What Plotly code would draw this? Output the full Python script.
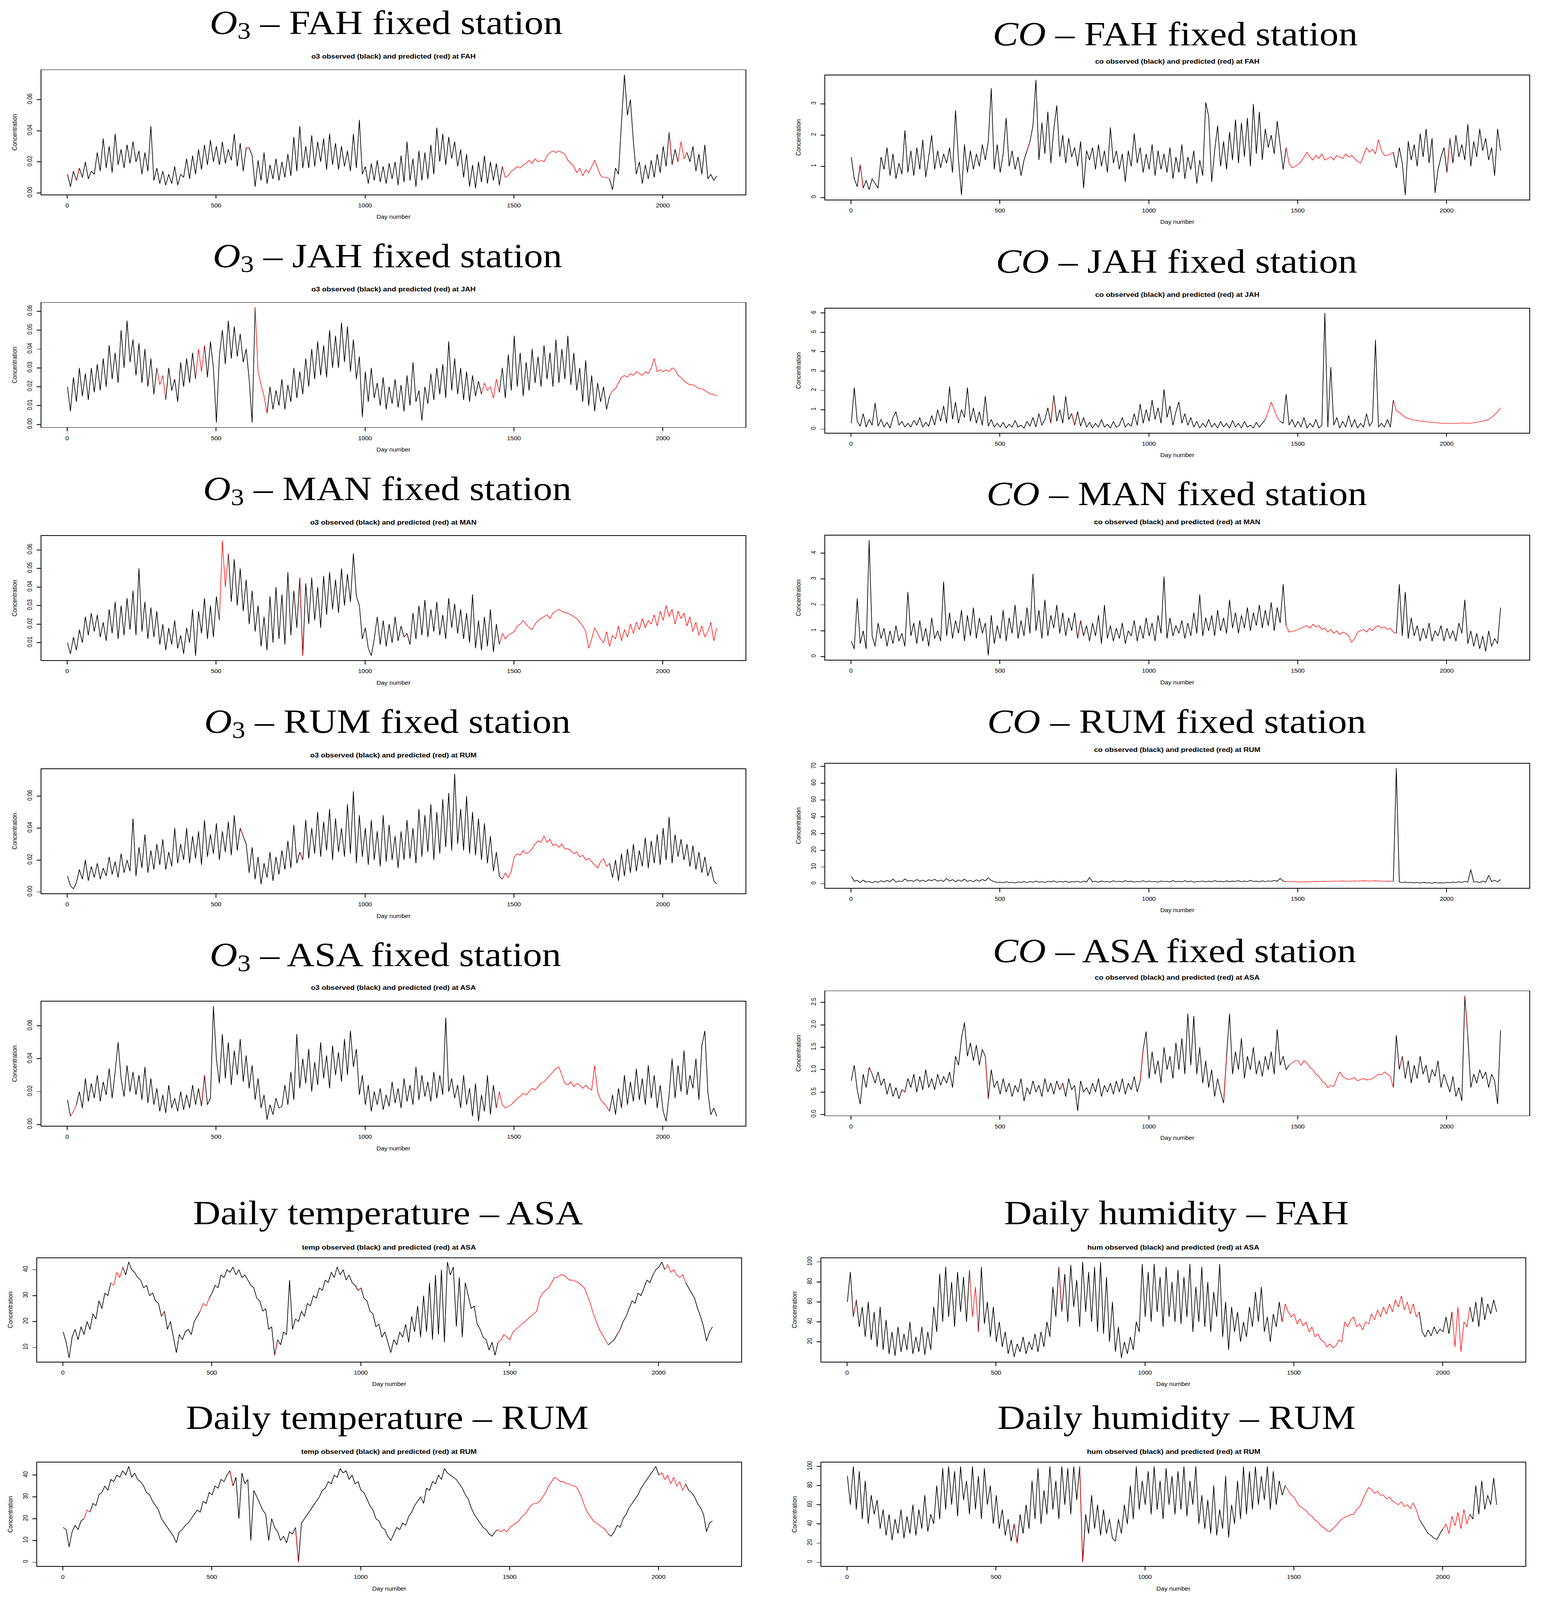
import plotly.graph_objects as go

W, H = 3951, 4619  # reference page size; positions below are in its pixels
n_days = 2190
days = list(range(1, n_days, 10))  # one reading every 10 days

# ---- O3 (ppm) ----
o3_fah = [
    0.012, 0.004, 0.014, 0.008, 0.016, 0.010, 0.020, 0.009, 0.014, 0.012,
    0.026, 0.014, 0.035, 0.016, 0.030, 0.013, 0.038, 0.018, 0.028, 0.016,
    0.031, 0.019, 0.033, 0.020, 0.027, 0.012, 0.026, 0.014, 0.043, 0.008,
    0.016, 0.006, 0.014, 0.005, 0.012, 0.006, 0.017, 0.005, 0.012, 0.010,
    0.022, 0.009, 0.024, 0.012, 0.028, 0.015, 0.031, 0.018, 0.034, 0.020,
    0.030, 0.018, 0.033, 0.019, 0.028, 0.021, 0.038, 0.017, 0.032, 0.014,
    0.029, 0.029, 0.024, 0.004, 0.021, 0.008, 0.026, 0.006, 0.018, 0.009,
    0.022, 0.008, 0.020, 0.010, 0.025, 0.011, 0.036, 0.014, 0.043, 0.016,
    0.030, 0.016, 0.037, 0.017, 0.033, 0.020, 0.035, 0.015, 0.038, 0.018,
    0.032, 0.015, 0.030, 0.017, 0.027, 0.014, 0.038, 0.016, 0.047, 0.012,
    0.017, 0.006, 0.019, 0.008, 0.021, 0.007, 0.017, 0.006, 0.019, 0.009,
    0.020, 0.005, 0.024, 0.007, 0.033, 0.008, 0.022, 0.004, 0.027, 0.008,
    0.026, 0.009, 0.031, 0.012, 0.042, 0.020, 0.038, 0.018, 0.036, 0.022,
    0.033, 0.017, 0.028, 0.010, 0.025, 0.004, 0.018, 0.003, 0.020, 0.007,
    0.024, 0.006, 0.020, 0.008, 0.019, 0.005, 0.017, 0.010, 0.011, 0.014,
    0.015, 0.017, 0.016, 0.018, 0.019, 0.021, 0.019, 0.022, 0.020, 0.021,
    0.020, 0.024, 0.026, 0.027, 0.026, 0.027, 0.026, 0.025, 0.021, 0.019,
    0.017, 0.013, 0.016, 0.011, 0.015, 0.013, 0.017, 0.021, 0.016, 0.011,
    0.010, 0.010, 0.009, 0.002, 0.016, 0.012, 0.045, 0.076, 0.050, 0.060,
    0.033, 0.012, 0.020, 0.006, 0.018, 0.009, 0.021, 0.010, 0.025, 0.013,
    0.030, 0.017, 0.039, 0.018, 0.028, 0.020, 0.033, 0.022, 0.026, 0.020,
    0.030, 0.014, 0.025, 0.012, 0.031, 0.009, 0.012, 0.008, 0.011,
]
o3_jah = [
    0.020, 0.007, 0.025, 0.012, 0.030, 0.015, 0.027, 0.013, 0.030, 0.017,
    0.032, 0.018, 0.035, 0.020, 0.042, 0.024, 0.038, 0.022, 0.050, 0.030,
    0.055, 0.033, 0.045, 0.026, 0.043, 0.022, 0.040, 0.020, 0.035, 0.016,
    0.030, 0.021, 0.026, 0.013, 0.030, 0.018, 0.024, 0.012, 0.033, 0.020,
    0.035, 0.022, 0.038, 0.024, 0.040, 0.028, 0.042, 0.025, 0.044, 0.030,
    0.001, 0.036, 0.050, 0.032, 0.055, 0.035, 0.052, 0.036, 0.048, 0.033,
    0.040, 0.024, 0.001, 0.062, 0.028, 0.021, 0.015, 0.006, 0.020, 0.008,
    0.018, 0.010, 0.024, 0.008, 0.021, 0.012, 0.030, 0.014, 0.028, 0.016,
    0.035, 0.020, 0.040, 0.024, 0.044, 0.026, 0.042, 0.025, 0.050, 0.030,
    0.047, 0.030, 0.054, 0.033, 0.052, 0.028, 0.045, 0.024, 0.036, 0.004,
    0.028, 0.012, 0.030, 0.014, 0.022, 0.010, 0.025, 0.008, 0.020, 0.011,
    0.024, 0.009, 0.021, 0.007, 0.026, 0.010, 0.033, 0.012, 0.018, 0.002,
    0.020, 0.011, 0.027, 0.013, 0.030, 0.016, 0.032, 0.014, 0.044, 0.018,
    0.035, 0.016, 0.030, 0.013, 0.028, 0.012, 0.026, 0.015, 0.023, 0.016,
    0.022, 0.018, 0.020, 0.014, 0.024, 0.017, 0.030, 0.014, 0.037, 0.018,
    0.047, 0.020, 0.038, 0.015, 0.033, 0.018, 0.040, 0.022, 0.036, 0.020,
    0.042, 0.024, 0.038, 0.020, 0.045, 0.022, 0.040, 0.024, 0.047, 0.021,
    0.038, 0.018, 0.030, 0.012, 0.034, 0.010, 0.026, 0.007, 0.022, 0.012,
    0.020, 0.008, 0.015, 0.018, 0.019, 0.022, 0.025, 0.026, 0.025, 0.027,
    0.026, 0.028, 0.027, 0.026, 0.028, 0.027, 0.030, 0.035, 0.028, 0.029,
    0.028, 0.029, 0.028, 0.030, 0.029, 0.026, 0.025, 0.023, 0.022, 0.021,
    0.021, 0.020, 0.019, 0.019, 0.018, 0.017, 0.016, 0.016, 0.015,
]
o3_man = [
    0.010, 0.004, 0.013, 0.006, 0.017, 0.010, 0.024, 0.014, 0.026, 0.016,
    0.025, 0.013, 0.021, 0.011, 0.028, 0.015, 0.032, 0.012, 0.030, 0.014,
    0.034, 0.017, 0.038, 0.014, 0.050, 0.016, 0.032, 0.012, 0.029, 0.013,
    0.027, 0.009, 0.020, 0.006, 0.018, 0.009, 0.022, 0.007, 0.014, 0.004,
    0.018, 0.010, 0.028, 0.003, 0.027, 0.015, 0.034, 0.012, 0.030, 0.013,
    0.035, 0.022, 0.065, 0.040, 0.058, 0.032, 0.055, 0.030, 0.050, 0.027,
    0.044, 0.020, 0.038, 0.016, 0.030, 0.008, 0.024, 0.006, 0.035, 0.010,
    0.040, 0.012, 0.036, 0.009, 0.048, 0.014, 0.038, 0.018, 0.045, 0.003,
    0.042, 0.020, 0.045, 0.022, 0.040, 0.018, 0.046, 0.025, 0.048, 0.028,
    0.044, 0.026, 0.050, 0.030, 0.047, 0.032, 0.058, 0.035, 0.030, 0.012,
    0.018, 0.007, 0.003, 0.012, 0.024, 0.009, 0.022, 0.008, 0.020, 0.010,
    0.024, 0.011, 0.019, 0.013, 0.015, 0.009, 0.026, 0.012, 0.030, 0.014,
    0.033, 0.013, 0.028, 0.016, 0.032, 0.014, 0.025, 0.012, 0.034, 0.018,
    0.031, 0.015, 0.028, 0.012, 0.026, 0.010, 0.036, 0.007, 0.022, 0.006,
    0.024, 0.008, 0.028, 0.005, 0.020, 0.009, 0.015, 0.012, 0.014, 0.015,
    0.016, 0.019, 0.020, 0.022, 0.020, 0.018, 0.017, 0.020, 0.022, 0.023,
    0.024, 0.025, 0.023, 0.026, 0.027, 0.028, 0.027, 0.026, 0.026, 0.025,
    0.024, 0.023, 0.021, 0.019, 0.016, 0.007, 0.012, 0.018, 0.015, 0.012,
    0.010, 0.016, 0.008, 0.014, 0.012, 0.019, 0.011, 0.017, 0.013, 0.020,
    0.015, 0.021, 0.017, 0.023, 0.018, 0.022, 0.020, 0.025, 0.019, 0.027,
    0.022, 0.030, 0.024, 0.028, 0.020, 0.027, 0.023, 0.026, 0.019, 0.024,
    0.016, 0.021, 0.014, 0.019, 0.013, 0.016, 0.021, 0.011, 0.018,
]
o3_rum = [
    0.010, 0.004, 0.002, 0.006, 0.014, 0.008, 0.020, 0.007, 0.016, 0.009,
    0.018, 0.008, 0.015, 0.010, 0.022, 0.011, 0.019, 0.009, 0.024, 0.012,
    0.020, 0.013, 0.046, 0.010, 0.028, 0.015, 0.036, 0.012, 0.026, 0.014,
    0.030, 0.017, 0.033, 0.014, 0.025, 0.016, 0.040, 0.018, 0.030, 0.020,
    0.040, 0.018, 0.035, 0.021, 0.038, 0.017, 0.045, 0.022, 0.036, 0.024,
    0.043, 0.020, 0.038, 0.025, 0.044, 0.023, 0.048, 0.026, 0.040, 0.035,
    0.030, 0.012, 0.028, 0.008, 0.022, 0.005, 0.018, 0.009, 0.025, 0.007,
    0.022, 0.011, 0.026, 0.014, 0.032, 0.015, 0.042, 0.018, 0.025, 0.020,
    0.045, 0.021, 0.040, 0.024, 0.050, 0.022, 0.044, 0.026, 0.052, 0.020,
    0.046, 0.025, 0.040, 0.022, 0.055, 0.024, 0.063, 0.018, 0.048, 0.022,
    0.040, 0.017, 0.045, 0.020, 0.038, 0.016, 0.048, 0.019, 0.042, 0.020,
    0.035, 0.015, 0.038, 0.020, 0.045, 0.021, 0.040, 0.018, 0.052, 0.022,
    0.048, 0.025, 0.055, 0.020, 0.050, 0.024, 0.058, 0.028, 0.062, 0.026,
    0.074, 0.030, 0.052, 0.026, 0.060, 0.024, 0.050, 0.023, 0.046, 0.020,
    0.043, 0.018, 0.035, 0.013, 0.025, 0.010, 0.008, 0.012, 0.009, 0.013,
    0.022, 0.024, 0.023, 0.026, 0.024, 0.025, 0.027, 0.030, 0.032, 0.031,
    0.035, 0.031, 0.033, 0.029, 0.030, 0.028, 0.030, 0.027, 0.027, 0.026,
    0.024, 0.025, 0.022, 0.023, 0.020, 0.021, 0.019, 0.017, 0.015, 0.019,
    0.021, 0.016, 0.018, 0.009, 0.020, 0.007, 0.024, 0.010, 0.027, 0.012,
    0.030, 0.013, 0.026, 0.016, 0.034, 0.015, 0.032, 0.018, 0.036, 0.017,
    0.040, 0.020, 0.047, 0.018, 0.036, 0.022, 0.033, 0.020, 0.030, 0.016,
    0.029, 0.014, 0.025, 0.012, 0.022, 0.010, 0.016, 0.007, 0.005,
]
o3_asa = [
    0.015, 0.005, 0.008, 0.012, 0.020, 0.010, 0.028, 0.014, 0.025, 0.016,
    0.030, 0.014, 0.026, 0.018, 0.034, 0.016, 0.032, 0.050, 0.028, 0.017,
    0.036, 0.020, 0.032, 0.018, 0.030, 0.015, 0.035, 0.013, 0.028, 0.012,
    0.022, 0.008, 0.018, 0.007, 0.024, 0.010, 0.016, 0.008, 0.020, 0.009,
    0.018, 0.010, 0.024, 0.012, 0.022, 0.011, 0.030, 0.012, 0.016, 0.072,
    0.040, 0.025, 0.055, 0.028, 0.050, 0.024, 0.045, 0.030, 0.052, 0.026,
    0.042, 0.022, 0.036, 0.015, 0.028, 0.010, 0.018, 0.003, 0.012, 0.006,
    0.016, 0.010, 0.011, 0.024, 0.012, 0.032, 0.015, 0.055, 0.022, 0.040,
    0.025, 0.046, 0.020, 0.038, 0.024, 0.050, 0.028, 0.042, 0.022, 0.048,
    0.030, 0.044, 0.026, 0.052, 0.030, 0.057, 0.035, 0.046, 0.018, 0.030,
    0.012, 0.024, 0.008, 0.020, 0.012, 0.022, 0.009, 0.018, 0.011, 0.026,
    0.013, 0.022, 0.010, 0.028, 0.014, 0.024, 0.012, 0.035, 0.015, 0.030,
    0.017, 0.026, 0.014, 0.032, 0.016, 0.030, 0.018, 0.065, 0.020, 0.028,
    0.016, 0.024, 0.010, 0.030, 0.012, 0.022, 0.005, 0.025, 0.002, 0.018,
    0.008, 0.030, 0.006, 0.024, 0.010, 0.020, 0.012, 0.010, 0.011, 0.012,
    0.014, 0.016, 0.017, 0.019, 0.018, 0.020, 0.022, 0.021, 0.023, 0.025,
    0.026, 0.028, 0.030, 0.032, 0.034, 0.035, 0.030, 0.025, 0.024, 0.026,
    0.023, 0.025, 0.024, 0.022, 0.024, 0.022, 0.021, 0.036, 0.020, 0.015,
    0.013, 0.011, 0.008, 0.018, 0.006, 0.022, 0.010, 0.030, 0.012, 0.026,
    0.014, 0.034, 0.015, 0.028, 0.012, 0.036, 0.016, 0.030, 0.010, 0.024,
    0.008, 0.002, 0.018, 0.040, 0.016, 0.036, 0.020, 0.045, 0.018, 0.030,
    0.022, 0.040, 0.015, 0.048, 0.057, 0.020, 0.006, 0.010, 0.005,
]

# ---- CO (ppm) ----
co_fah = [
    1.3, 0.6, 0.35, 1.05, 0.3, 0.55, 0.25, 0.6, 0.45, 0.3,
    1.3, 0.9, 1.6, 0.7, 1.4, 0.6, 1.1, 0.75, 2.15, 0.8,
    1.5, 0.7, 1.6, 0.9, 1.85, 0.65, 1.3, 2.0, 0.9, 1.5,
    0.95, 1.4, 1.1, 1.6, 0.8, 2.8, 1.2, 0.08, 1.7, 0.8,
    1.5, 0.9, 1.4, 1.0, 1.7, 1.2, 1.8, 3.5, 0.9, 1.7,
    0.8, 1.4, 2.55, 1.0, 1.5, 0.9, 1.3, 0.7, 1.2, 1.5,
    1.8, 2.3, 3.77, 1.2, 2.4, 1.4, 2.75, 1.1, 2.2, 2.95,
    1.3, 2.0, 1.1, 1.9, 1.3, 1.6, 1.0, 1.8, 0.3, 1.5,
    1.2, 1.6, 0.9, 1.7, 1.0, 1.5, 0.8, 2.25, 1.1, 1.5,
    0.9, 1.4, 0.5, 1.5, 1.0, 2.05, 1.1, 1.6, 0.8, 1.4,
    0.9, 1.7, 0.7, 1.5, 0.9, 1.4, 0.8, 1.6, 0.6, 1.3,
    0.8, 1.7, 0.6, 1.3, 0.9, 1.5, 0.45, 1.2, 0.7, 3.05,
    2.6, 0.5, 1.5, 2.3, 1.0, 1.8, 0.9, 2.1, 1.2, 2.5,
    1.1, 2.4, 1.3, 2.55, 1.0, 3.0, 1.4, 2.75, 1.2, 2.2,
    1.6, 2.0, 1.4, 2.45, 1.7, 0.9, 1.6, 1.1, 0.95, 1.0,
    1.05, 1.15, 1.3, 1.45, 1.3, 1.2, 1.35, 1.25, 1.4, 1.2,
    1.25, 1.3, 1.2, 1.35, 1.3, 1.25, 1.4, 1.3, 1.35, 1.25,
    1.15, 1.1, 1.35, 1.6, 1.45, 1.55, 1.4, 1.85, 1.5, 1.35,
    1.35, 1.4, 1.45, 0.95, 1.6, 1.1, 0.08, 1.8, 1.2, 1.7,
    1.0, 2.05, 1.3, 2.2, 1.1, 1.9, 0.15, 0.9, 1.3, 1.6,
    0.8, 1.9, 1.1, 2.0, 1.3, 1.7, 1.2, 2.35, 1.0, 1.8,
    1.3, 2.2, 1.5, 1.9, 1.2, 1.6, 0.7, 2.2, 1.5,
]
co_jah = [
    0.3, 2.15, 0.4, 0.15, 0.8, 0.1, 0.5, 0.2, 1.35, 0.15,
    0.5, 0.1, 0.35, 0.05, 0.6, 0.9, 0.2, 0.4, 0.1, 0.3,
    0.1, 0.45, 0.2, 0.6, 0.1, 0.35, 0.15, 0.7, 0.2, 1.0,
    0.4, 1.2, 0.3, 2.2, 0.5, 1.4, 0.3, 1.0, 0.6, 2.15,
    0.4, 1.1, 0.3, 0.9, 0.2, 1.7, 0.15, 0.5, 0.1, 0.3,
    0.1, 0.35, 0.05, 0.25, 0.1, 0.45, 0.1, 0.2, 0.05, 0.4,
    0.15, 0.6, 0.1, 0.8, 0.2, 0.5, 1.1, 0.3, 1.75, 0.4,
    1.0, 0.3, 1.7, 0.5, 0.8, 0.2, 0.9, 0.15, 0.6, 0.1,
    0.35, 0.05, 0.3, 0.1, 0.5, 0.1, 0.25, 0.05, 0.4, 0.1,
    0.2, 0.6, 0.1, 0.3, 0.15, 0.8, 0.2, 1.3, 0.3, 1.0,
    0.4, 1.5, 0.5, 1.1, 0.3, 2.05, 0.6, 1.2, 0.2, 0.9,
    1.4, 0.3, 0.8, 0.2, 0.6, 0.1, 0.4, 0.05, 0.3, 0.1,
    0.5, 0.1, 0.3, 0.05, 0.4, 0.1, 0.3, 0.05, 0.45, 0.1,
    0.3, 0.05, 0.4, 0.1, 0.2, 0.05, 0.35, 0.1, 0.3, 0.5,
    0.9, 1.4, 1.0, 0.6, 0.4, 0.3, 1.8, 0.2, 0.5, 0.1,
    0.4, 0.1, 0.6, 0.05, 0.3, 0.1, 0.5, 0.05, 0.2, 6.0,
    0.1, 3.2, 0.2, 0.6, 0.05, 0.4, 0.1, 0.7, 0.1, 0.5,
    0.05, 0.3, 0.1, 0.8, 0.15, 0.4, 4.6, 0.1, 0.3, 0.1,
    0.5, 0.1, 1.5, 0.95, 0.85, 0.75, 0.6, 0.55, 0.5, 0.45,
    0.45, 0.4, 0.42, 0.38, 0.35, 0.36, 0.33, 0.32, 0.3, 0.3,
    0.3, 0.28, 0.3, 0.29, 0.3, 0.32, 0.3, 0.31, 0.3, 0.33,
    0.35, 0.38, 0.4, 0.45, 0.5, 0.6, 0.75, 0.9, 1.1,
]
co_man = [
    0.6, 0.3, 2.25, 0.5, 1.0, 0.3, 4.5, 0.8, 0.4, 1.3,
    0.7, 1.1, 0.4, 1.0, 0.5, 1.2, 0.6, 0.9, 0.4, 2.5,
    0.8, 1.3, 0.5, 1.4, 0.6, 1.1, 0.4, 1.5, 0.7, 1.0,
    0.6, 2.9, 0.8, 1.7, 0.7, 1.4, 0.9, 1.8, 0.6, 1.6,
    0.8, 1.9, 0.7, 1.5, 0.9, 1.3, 0.05, 1.6, 0.5, 1.2,
    0.7, 1.8, 0.6, 1.5, 0.9, 2.0, 0.7, 1.4, 0.8, 1.9,
    0.9, 3.2, 1.0, 1.8, 0.7, 2.2, 0.8, 1.6, 1.1, 2.0,
    0.9, 1.7, 0.8, 1.5, 1.0, 1.7, 0.7, 1.4, 0.8, 1.2,
    0.6, 1.3, 0.8, 1.6, 0.5, 2.0, 0.7, 1.2, 0.6, 1.1,
    0.7, 1.3, 0.5, 1.0, 0.8, 1.4, 0.6, 1.2, 0.7, 1.5,
    0.8, 1.3, 0.6, 1.6, 0.9, 3.1, 0.7, 1.5, 0.8, 1.2,
    0.9, 1.4, 0.7, 1.3, 0.8, 1.7, 0.9, 2.4, 0.8, 1.5,
    1.0, 1.6, 0.8, 1.8, 1.0, 1.5, 0.9, 2.2, 1.1, 1.7,
    0.9, 1.6, 1.1, 1.9, 1.0, 1.7, 1.2, 2.0, 1.1, 1.8,
    1.2, 2.1, 1.0, 1.9, 1.3, 2.8, 1.2, 0.95, 0.98, 1.0,
    1.05, 1.1, 1.15, 1.2, 1.1, 1.25, 1.15, 1.2, 1.05, 1.1,
    0.95, 1.05, 0.9, 1.0, 0.85, 0.95, 0.9, 0.8, 0.55, 0.7,
    0.95, 1.0, 1.05, 0.95, 1.1, 1.0, 1.15, 1.2, 1.1, 1.15,
    1.05, 1.1, 0.95, 0.9, 2.8, 0.8, 2.5, 0.7, 1.5, 0.8,
    1.2, 0.6, 1.1, 0.7, 1.3, 0.6, 1.0, 0.8, 1.2, 0.6,
    1.1, 0.7, 1.0, 0.6, 1.3, 0.9, 2.2, 0.5, 1.0, 0.4,
    0.9, 0.3, 0.8, 0.2, 1.0, 0.4, 0.7, 0.5, 1.9,
]
co_rum = [
    4.6, 1.5, 2.0, 0.8, 2.2, 1.0, 1.4, 0.6, 1.5, 0.9,
    1.8, 1.1, 2.0, 1.2, 2.8, 1.0, 1.7, 1.3, 2.9, 1.6,
    2.0, 1.4, 2.6, 1.5, 2.2, 1.3, 2.4, 1.8, 2.7, 1.5,
    2.2, 1.4, 3.2, 1.6, 2.5, 1.2, 2.3, 1.5, 2.8, 1.4,
    2.1, 1.2, 2.4, 1.5, 2.6, 1.8, 3.6, 2.0, 1.2, 0.9,
    1.0, 0.6, 1.2, 0.7, 1.0, 0.5, 1.1, 0.8, 1.3, 0.7,
    1.4, 0.9, 1.6, 1.0, 1.3, 0.8, 1.5, 1.1, 1.7, 0.9,
    1.4, 1.0, 1.6, 0.8, 1.3, 1.1, 1.5, 0.9, 1.6, 1.0,
    3.9, 1.2, 1.5, 0.9, 1.7, 1.1, 1.4, 1.0, 1.8, 1.2,
    1.5, 1.0, 1.9, 1.2, 1.6, 1.0, 1.4, 1.2, 1.8, 1.1,
    1.6, 1.2, 1.4, 1.0, 1.7, 1.3, 1.5, 1.1, 1.9, 1.2,
    1.5, 1.1, 1.8, 1.2, 1.6, 1.0, 1.4, 1.3, 1.7, 1.1,
    1.6, 1.2, 1.9, 1.3, 1.5, 1.1, 1.8, 1.2, 1.6, 1.4,
    1.9, 1.2, 1.7, 1.3, 2.0, 1.4, 1.6, 1.2, 1.8, 1.3,
    1.7, 1.4, 2.0, 1.5, 3.2, 1.6, 1.3, 1.4, 1.2, 1.3,
    1.1, 1.0, 1.2, 1.1, 1.3, 1.2, 1.4, 1.3, 1.5, 1.4,
    1.4, 1.5, 1.6, 1.5, 1.6, 1.7, 1.6, 1.5, 1.6, 1.7,
    1.6, 1.7, 1.8, 1.7, 1.6, 1.7, 1.8, 1.7, 1.6, 1.5,
    1.6, 1.5, 1.4, 69.0, 1.0, 0.7, 1.1, 0.6, 0.9, 0.5,
    0.8, 0.4, 0.9, 0.5, 0.7, 0.3, 0.8, 0.5, 0.6, 0.4,
    0.9, 0.6, 1.1, 0.7, 1.2, 0.8, 1.4, 0.9, 8.5, 1.0,
    1.3, 0.8, 1.6, 1.0, 5.0, 1.4, 2.0, 1.2, 2.6,
]
co_asa = [
    0.75, 1.1, 0.55, 0.23, 0.9, 0.6, 1.05, 0.9, 0.7, 0.95,
    0.65, 0.8, 0.45, 0.7, 0.4, 0.6, 0.35, 0.55, 0.5, 0.8,
    0.6, 0.9, 0.5, 0.85, 0.55, 1.0, 0.6, 0.8, 0.55, 0.9,
    0.65, 0.85, 0.7, 0.95, 0.6, 1.3, 1.1, 1.7, 2.05, 1.3,
    1.6, 1.2, 1.55, 1.1, 1.45, 1.3, 0.35, 1.0, 0.6, 0.75,
    0.45, 0.8, 0.5, 0.7, 0.4, 0.65, 0.5, 0.8, 0.3, 0.6,
    0.45, 0.75, 0.5, 0.65, 0.4, 0.8, 0.5, 0.7, 0.45, 0.75,
    0.55, 0.7, 0.4, 0.8, 0.55, 0.65, 0.08, 0.75, 0.5, 0.6,
    0.45, 0.7, 0.5, 0.8, 0.4, 0.65, 0.5, 0.7, 0.45, 0.75,
    0.5, 0.8, 0.45, 0.7, 0.55, 0.85, 0.5, 0.75, 1.45, 1.85,
    0.8, 1.4, 0.9, 1.2, 0.7, 1.5, 1.0, 1.3, 0.8, 1.6,
    1.0, 1.7, 0.9, 2.25, 1.1, 2.2, 0.9, 1.5, 0.7, 1.2,
    0.6, 1.0, 0.4, 0.8, 0.5, 0.25, 1.3, 2.25, 0.9, 1.4,
    1.0, 1.7, 0.8, 1.3, 1.0, 1.5, 0.9, 1.2, 0.85, 1.3,
    1.0, 1.4, 0.9, 1.9, 1.1, 1.3, 1.0, 1.1, 1.15, 1.2,
    1.2, 1.1, 1.2, 1.15, 1.05, 1.0, 0.9, 0.85, 0.75, 0.7,
    0.6, 0.65, 0.62, 0.8, 0.95, 0.85, 0.8, 0.78, 0.8, 0.82,
    0.75, 0.78, 0.8, 0.77, 0.78, 0.8, 0.85, 0.9, 0.88, 0.95,
    0.9, 0.85, 0.6, 1.77, 1.0, 1.3, 0.8, 1.2, 0.7, 1.1,
    0.8, 1.3, 0.9, 1.1, 0.7, 1.0, 0.85, 1.2, 0.6, 0.9,
    0.7, 0.5, 0.85, 0.4, 0.6, 0.3, 2.65, 1.75, 0.6, 0.9,
    0.7, 1.0, 0.8, 0.95, 0.6, 0.9, 0.75, 0.23, 1.88,
]

# ---- meteorology ----
temp_asa = [
    16, 12, 6, 14, 17, 13, 18, 15, 20, 17,
    23, 21, 28, 25, 31, 30, 35, 34, 39, 37,
    41, 38, 43, 40, 39, 37, 36, 33, 34, 30,
    31, 28, 27, 22, 24, 17, 20, 14, 8, 15,
    13, 16, 17, 15, 20, 22, 24, 27, 26, 29,
    31, 34, 33, 38, 37, 40, 39, 41, 38, 40,
    37, 38, 36, 34, 33, 29, 28, 24, 25, 17,
    18, 7, 13, 11, 16, 15, 36, 17, 21, 20,
    24, 22, 27, 26, 30, 29, 33, 32, 36, 35,
    39, 37, 41, 38, 40, 36, 38, 35, 34, 32,
    33, 29, 28, 24, 23, 18, 19, 14, 16, 12,
    8, 13, 11, 16, 14, 19, 12, 22, 16, 26,
    14, 30, 16, 35, 13, 38, 15, 40, 12, 43,
    38, 41, 18, 37, 14, 35, 30, 25, 26, 19,
    17, 14, 13, 9, 12, 7, 12, 13, 15, 14,
    13, 16, 17, 18, 19, 20, 21, 22, 23, 24,
    29, 31, 32, 33, 35, 37, 37, 38, 38, 37,
    36, 36, 35.5, 35, 34, 33, 30, 27, 23, 20,
    17, 15, 13, 11, 12, 13, 15, 17, 20, 22,
    25, 28, 27, 31, 30, 33, 36, 35, 38, 40,
    41, 43, 40, 42, 39, 40, 38, 37, 38, 35,
    33, 31, 29, 25, 22, 18, 12.5, 16, 18,
]
hum_fah = [
    60, 90, 45, 62, 35, 55, 25, 60, 22, 50,
    15, 55, 12, 42, 8, 30, 6, 35, 10, 28,
    12, 40, 8, 25, 10, 35, 7, 30, 12, 55,
    30, 88, 40, 95, 45, 80, 35, 90, 50, 85,
    40, 92, 45, 75, 30, 95, 38, 60, 25, 55,
    20, 40, 15, 30, 8, 22, 5, 18, 10, 25,
    8, 20, 12, 28, 10, 30, 15, 40, 25, 75,
    45, 95, 50, 88, 40, 97, 55, 82, 35, 100,
    50, 90, 40, 95, 30, 100, 28, 85, 20, 60,
    10, 35, 4, 20, 8, 25, 12, 40, 30, 98,
    45, 90, 40, 98, 50, 85, 35, 95, 45, 80,
    40, 92, 38, 85, 45, 98, 30, 75, 40, 95,
    35, 80, 30, 70, 45, 98, 25, 60, 12, 55,
    30, 50, 20, 40, 25, 55, 35, 70, 40, 75,
    30, 45, 20, 48, 35, 60, 40, 58, 50, 45,
    48, 38, 43, 36, 40, 30, 35, 25, 28, 22,
    20, 15, 18, 14, 16, 22, 20, 40, 35, 42,
    45, 35, 38, 32, 40, 38, 48, 42, 52, 45,
    55, 48, 58, 50, 62, 55, 66, 52, 60, 48,
    58, 45, 50, 30, 25, 32, 26, 35, 28, 33,
    30, 45, 28, 50, 15, 55, 10, 40, 35, 55,
    40, 60, 35, 65, 42, 58, 48, 62, 50,
]
temp_rum = [
    16, 15, 7, 14, 17, 15, 19, 20, 24, 23,
    27, 26, 31, 32, 35, 33, 38, 37, 40, 39,
    42, 40, 44, 39, 41, 38, 37, 35, 32, 31,
    28, 26, 24, 20, 18, 16, 14, 12, 9, 14,
    15, 17, 18, 20, 22, 24, 23, 28, 27, 32,
    31, 35, 34, 38, 37, 40, 42, 35, 39, 20,
    41, 36, 38, 10, 33, 30, 27, 24, 22, 10,
    20, 16, 14, 10, 12, 9, 14, 13, 16, 0,
    18, 20, 22, 24, 26, 28, 30, 33, 34, 37,
    36, 40, 39, 43, 41, 42, 38, 40, 36, 37,
    33, 32, 29, 26, 24, 20, 19, 16, 15, 12,
    10, 13, 16, 15, 18, 17, 21, 23, 26, 28,
    30, 27, 34, 33, 37, 36, 40, 38, 43, 41,
    40, 39, 38, 36, 34, 31, 29, 25, 22, 20,
    18, 16, 15, 13, 12, 14, 15, 14, 15, 14,
    16, 17, 18, 19, 21, 22, 24, 26, 27, 27,
    28, 30, 32, 35, 37, 39, 38, 37, 37, 36,
    36, 35, 35, 33, 30, 26, 23, 21, 19, 18,
    17, 16, 15, 13, 12, 14, 17, 16, 20, 22,
    25, 27, 29, 31, 34, 36, 38, 40, 42, 44,
    40, 41, 38, 40, 36, 39, 35, 37, 33, 36,
    33, 32, 30, 27, 25, 22, 14, 18, 19,
]
hum_rum = [
    90, 60, 100, 55, 95, 45, 85, 40, 70, 50,
    65, 35, 55, 28, 50, 23, 45, 30, 55, 25,
    48, 30, 60, 28, 55, 35, 70, 32, 50, 40,
    80, 45, 98, 55, 100, 60, 95, 48, 100, 65,
    85, 50, 100, 55, 90, 45, 98, 60, 80, 40,
    70, 35, 55, 28, 45, 22, 40, 20, 50, 30,
    60, 35, 85, 45, 98, 40, 75, 50, 100, 55,
    85, 45, 100, 60, 98, 50, 100, 65, 100, 0,
    50, 30, 70, 35, 60, 28, 55, 30, 45, 25,
    22, 45, 30, 60, 40, 80, 45, 100, 55, 85,
    60, 95, 50, 100, 55, 85, 45, 98, 60, 90,
    50, 95, 55, 100, 48, 85, 60, 100, 40, 70,
    35, 65, 30, 80, 28, 55, 35, 90, 26, 60,
    40, 85, 45, 100, 50, 95, 55, 100, 60, 90,
    65, 100, 55, 95, 60, 85, 70, 80, 75, 70,
    68, 62, 58, 56, 54, 50, 48, 44, 42, 38,
    36, 33, 32, 35, 38, 42, 45, 47, 48, 50,
    50, 55, 58, 65, 72, 78, 76, 72, 74, 70,
    70, 66, 68, 64, 62, 60, 63, 58, 60, 56,
    62, 55, 45, 40, 35, 30, 28, 25, 24, 30,
    35, 40, 30, 48, 38, 52, 35, 55, 40, 50,
    45, 80, 50, 85, 55, 70, 60, 88, 60,
]

# day ranges drawn in red (predicted)
o3_fah_pred = [(35, 42), (608, 614), (1465, 1825), (2025, 2035), (2055, 2085)]
o3_jah_pred = [(310, 335), (440, 462), (640, 675), (1400, 1460), (1825, 2200)]
o3_man_pred = [(515, 545), (785, 795), (1135, 1145), (1460, 2200)]
o3_rum_pred = [(588, 595), (785, 795), (1465, 1830)]
o3_asa_pred = [(20, 40), (455, 465), (715, 725), (1445, 1830)]
co_fah_pred = [(35, 45), (598, 604), (1465, 1825), (2005, 2015)]
co_jah_pred = [(675, 685), (745, 755), (1395, 1445), (1825, 2200)]
co_man_pred = [(765, 775), (1465, 1835)]
co_rum_pred = [(0, 5), (1465, 1825)]
co_asa_pred = [(65, 75), (175, 185), (455, 465), (705, 715), (975, 985),
               (1255, 1265), (1475, 1830), (1845, 1855), (2065, 2075)]
temp_asa_pred = [(165, 205), (335, 345), (465, 495), (715, 725), (995, 1005),
                 (1465, 1835), (1865, 1875), (2025, 2095)]
hum_fah_pred = [(25, 35), (415, 445), (715, 725), (1465, 1925), (2035, 2095)]
temp_rum_pred = [(75, 95), (565, 575), (785, 795), (1465, 1835), (2005, 2095)]
hum_rum_pred = [(565, 575), (785, 795), (1475, 1925), (2005, 2095)]

SERIF = "Liberation Serif"
SANS = "Liberation Sans"
TITLE_SIZE = 98
SUB_SIZE = 68

# advance widths (1/1000 em) of Liberation Serif, used to lay out the split titles
ROMAN_W = {" ": 250, "–": 500, "3": 500, "A": 722, "F": 556, "H": 722, "J": 389,
           "M": 889, "N": 722, "R": 667, "S": 556, "U": 722, "a": 444, "d": 500,
           "e": 444, "f": 333, "i": 278, "n": 500, "o": 500, "s": 389, "t": 278,
           "x": 500}
ITALIC_W = {"O": 722, "C": 667}


def text_width(s, size, table):
    return sum(table[c] for c in s) * size / 1000.0


# box = (x0, x1, y_top, y_bottom) of each plot frame; tcx/tcy = title centre
panels = [
    dict(vals=o3_fah, pred=o3_fah_pred, box=(106, 1909, 198, 558), tcx=990, tcy=60,
         title=("O", "3", " – FAH fixed station"),
         sub="o3 observed (black) and predicted (red) at FAH",
         ticks=[0, 0.02, 0.04, 0.06], fmt=".2f"),
    dict(vals=co_fah, pred=co_fah_pred, box=(2113, 3916, 213, 573), tcx=3011, tcy=93,
         title=("CO", "", " – FAH fixed station"),
         sub="co observed (black) and predicted (red) at FAH",
         ticks=[0, 1, 2, 3], fmt="d"),
    dict(vals=o3_jah, pred=o3_jah_pred, box=(106, 1909, 872, 1232), tcx=990, tcy=735,
         title=("O", "3", " – JAH fixed station"),
         sub="o3 observed (black) and predicted (red) at JAH",
         ticks=[0, 0.01, 0.02, 0.03, 0.04, 0.05, 0.06], fmt=".2f"),
    dict(vals=co_jah, pred=co_jah_pred, box=(2113, 3916, 888, 1248), tcx=3011, tcy=751,
         title=("CO", "", " – JAH fixed station"),
         sub="co observed (black) and predicted (red) at JAH",
         ticks=[0, 1, 2, 3, 4, 5, 6], fmt="d"),
    dict(vals=o3_man, pred=o3_man_pred, box=(106, 1909, 1547, 1907), tcx=990, tcy=1410,
         title=("O", "3", " – MAN fixed station"),
         sub="o3 observed (black) and predicted (red) at MAN",
         ticks=[0.01, 0.02, 0.03, 0.04, 0.05, 0.06], fmt=".2f"),
    dict(vals=co_man, pred=co_man_pred, box=(2113, 3916, 1546, 1906), tcx=3011, tcy=1424,
         title=("CO", "", " – MAN fixed station"),
         sub="co observed (black) and predicted (red) at MAN",
         ticks=[0, 1, 2, 3, 4], fmt="d"),
    dict(vals=o3_rum, pred=o3_rum_pred, box=(106, 1909, 2222, 2582), tcx=990, tcy=2084,
         title=("O", "3", " – RUM fixed station"),
         sub="o3 observed (black) and predicted (red) at RUM",
         ticks=[0, 0.02, 0.04, 0.06], fmt=".2f"),
    dict(vals=co_rum, pred=co_rum_pred, box=(2113, 3916, 2206, 2566), tcx=3011, tcy=2084,
         title=("CO", "", " – RUM fixed station"),
         sub="co observed (black) and predicted (red) at RUM",
         ticks=[0, 10, 20, 30, 40, 50, 60, 70], fmt="d"),
    dict(vals=o3_asa, pred=o3_asa_pred, box=(106, 1909, 2895, 3255), tcx=990, tcy=2759,
         title=("O", "3", " – ASA fixed station"),
         sub="o3 observed (black) and predicted (red) at ASA",
         ticks=[0, 0.02, 0.04, 0.06], fmt=".2f"),
    dict(vals=co_asa, pred=co_asa_pred, box=(2113, 3916, 2865, 3225), tcx=3011, tcy=2748,
         title=("CO", "", " – ASA fixed station"),
         sub="co observed (black) and predicted (red) at ASA",
         ticks=[0, 0.5, 1, 1.5, 2, 2.5], fmt=".1f"),
    dict(vals=temp_asa, pred=temp_asa_pred, box=(95, 1898, 3638, 3938), tcx=994, tcy=3507,
         title=("", "", "Daily temperature – ASA"),
         sub="temp observed (black) and predicted (red) at ASA",
         ticks=[10, 20, 30, 40], fmt="d"),
    dict(vals=hum_fah, pred=hum_fah_pred, box=(2103, 3906, 3638, 3938), tcx=3012, tcy=3507,
         title=("", "", "Daily humidity – FAH"),
         sub="hum observed (black) and predicted (red) at ASA",
         ticks=[20, 40, 60, 80, 100], fmt="d"),
    dict(vals=temp_rum, pred=temp_rum_pred, box=(95, 1898, 4230, 4530), tcx=991, tcy=4099,
         title=("", "", "Daily temperature – RUM"),
         sub="temp observed (black) and predicted (red) at RUM",
         ticks=[0, 10, 20, 30, 40], fmt="d"),
    dict(vals=hum_rum, pred=hum_rum_pred, box=(2103, 3906, 4230, 4530), tcx=3012, tcy=4099,
         title=("", "", "Daily humidity – RUM"),
         sub="hum observed (black) and predicted (red) at RUM",
         ticks=[0, 20, 40, 60, 80, 100], fmt="d"),
]

fig = go.Figure()
annotations = []
span = n_days - 1
xrange = [1 - 0.04 * span, n_days + 0.04 * span]


def page_note(text, x, y, size, family, xanchor="center", style="normal"):
    return dict(text=text, x=x / W, y=1 - y / H, xref="paper", yref="paper",
                xanchor=xanchor, yanchor="middle", showarrow=False,
                font=dict(family=family, size=size, color="black", style=style))


for k, p in enumerate(panels, start=1):
    vals = p["vals"]
    assert len(vals) == len(days), (k, len(vals))
    n = len(days)
    red = [any(a <= d <= b for a, b in p["pred"]) for d in days]
    # segment leading into a red stretch is red, segment leaving it is black
    red_y = [v if (red[i] or (i + 1 < n and red[i + 1])) else None for i, v in enumerate(vals)]
    black_y = [v if (not red[i] or (i + 1 < n and not red[i + 1])) else None
               for i, v in enumerate(vals)]
    xs = "x" if k == 1 else f"x{k}"
    ys = "y" if k == 1 else f"y{k}"
    fig.add_trace(go.Scatter(x=days, y=black_y, mode="lines", xaxis=xs, yaxis=ys,
                             line=dict(color="black", width=1.7), showlegend=False,
                             connectgaps=False, hoverinfo="skip"))
    fig.add_trace(go.Scatter(x=days, y=red_y, mode="lines", xaxis=xs, yaxis=ys,
                             line=dict(color="#FF0000", width=1.5), showlegend=False,
                             connectgaps=False, hoverinfo="skip"))

    x0, x1, yt, yb = p["box"]
    lo, hi = min(vals), max(vals)
    pad = 0.04 * (hi - lo)
    xa = "xaxis" if k == 1 else f"xaxis{k}"
    ya = "yaxis" if k == 1 else f"yaxis{k}"
    fig.layout[xa] = dict(
        domain=[x0 / W, x1 / W], anchor=ys, range=xrange,
        tickvals=[0, 500, 1000, 1500, 2000], ticks="outside", ticklen=10, tickwidth=1.5,
        tickcolor="black", showline=True, linecolor="black", linewidth=2, mirror=True,
        showgrid=False, zeroline=False, tickfont=dict(family=SANS, size=16, color="black"),
        ticklabelstandoff=6,
        title=dict(text="Day number", font=dict(family=SANS, size=16, color="black"),
                   standoff=20),
    )
    fig.layout[ya] = dict(
        domain=[1 - yb / H, 1 - yt / H], anchor=xs, range=[lo - pad, hi + pad],
        tickvals=p["ticks"], tickformat=p["fmt"], tickangle=-90,
        ticks="outside", ticklen=10, tickwidth=1.5, tickcolor="black",
        showline=True, linecolor="black", linewidth=2, mirror=True,
        showgrid=False, zeroline=False, tickfont=dict(family=SANS, size=16, color="black"),
        ticklabelstandoff=6,
        title=dict(text="Concentration", font=dict(family=SANS, size=17, color="black"),
                   standoff=20),
    )

    # title: italic species symbol, upright subscript, upright remainder
    ital, subscript, rest = p["title"]
    if not ital:
        annotations.append(page_note(rest, p["tcx"], p["tcy"], TITLE_SIZE, SERIF))
    else:
        w_i = text_width(ital, TITLE_SIZE, ITALIC_W)
        w_s = text_width(subscript, SUB_SIZE, ROMAN_W)
        w_r = text_width(rest, TITLE_SIZE, ROMAN_W)
        left = p["tcx"] - (w_i + w_s + w_r) / 2
        annotations.append(page_note(ital, left, p["tcy"], TITLE_SIZE, SERIF,
                                     xanchor="left", style="italic"))
        if subscript:
            annotations.append(page_note(subscript, left + w_i, p["tcy"] + 24, SUB_SIZE,
                                         SERIF, xanchor="left"))
        annotations.append(page_note(rest, left + w_i + w_s, p["tcy"], TITLE_SIZE, SERIF,
                                     xanchor="left"))

    sub_gap = 40 if yb - yt > 340 else 32
    annotations.append(page_note("<b>" + p["sub"] + "</b>", (x0 + x1) / 2, yt - sub_gap,
                                 19, SANS))

fig.update_layout(
    width=W, height=H, autosize=False,
    margin=dict(l=0, r=0, t=0, b=0),
    paper_bgcolor="white", plot_bgcolor="white",
    font=dict(family=SANS, color="black"),
    annotations=annotations,
)

# the page is laid out at the reference size, then scaled to whatever viewport the
# browser actually offers so the whole sheet stays visible
fit_js = (
    "document.body.style.margin='0';document.body.style.overflow='hidden';"
    "var gd=document.getElementById('{plot_id}');"
    "var sx=window.innerWidth/%d, sy=window.innerHeight/%d;"
    "gd.style.transformOrigin='0 0';"
    "gd.style.transform='scale('+sx+','+sy+')';" % (W, H)
)
fig.write_html("out.html", config={"displayModeBar": False}, post_script=fit_js)
